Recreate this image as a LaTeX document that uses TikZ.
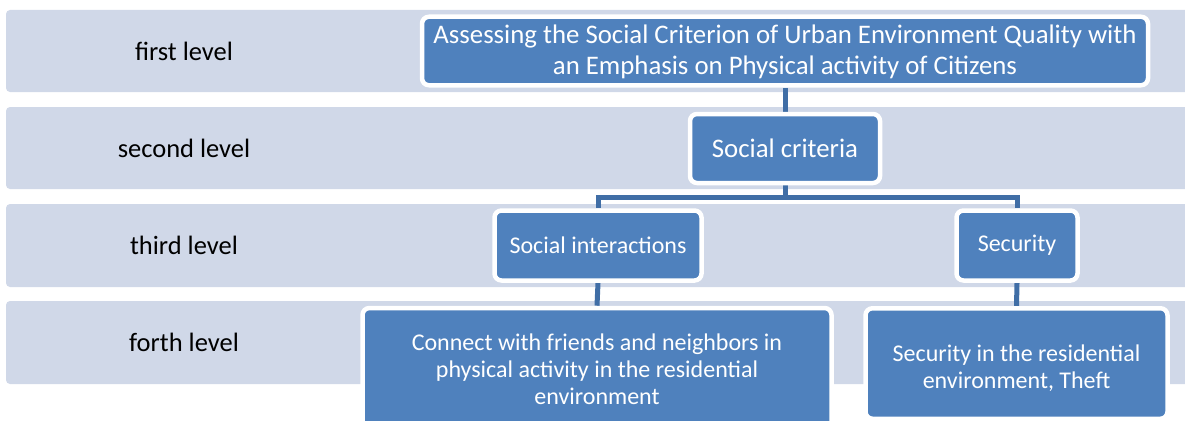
\documentclass[tikz,border=0pt]{standalone}
\usepackage{fontspec}
\setmainfont{Carlito}
\definecolor{bandgray}{HTML}{D0D8E8}
\definecolor{nodeblue}{HTML}{4F81BD}
\definecolor{linkblue}{HTML}{406EA6}
\pgfdeclarelayer{bands}
\pgfdeclarelayer{links}
\pgfsetlayers{bands,links,main}
\tikzset{
  band/.style={fill=bandgray, rounded corners=4pt},
  levellabel/.style={font=\fontsize{26.5}{30}\selectfont, text=black},
  box/.style={draw=white, line width=4.5pt, fill=nodeblue, rounded corners=7pt,
    text=white, align=center, inner sep=0pt},
  link/.style={draw=linkblue, line width=5pt},
}
\begin{document}
\begin{tikzpicture}[x=1pt,y=-1pt]
\useasboundingbox (0,0) rectangle (1185,420);
\clip (0,0) rectangle (1185,420);
% level bands
\begin{pgfonlayer}{bands}
\fill[band] (6,10) rectangle (1200,92);
\fill[band] (6,107) rectangle (1200,189);
\fill[band] (6,204) rectangle (1200,287);
\fill[band] (6,301) rectangle (1200,384);
\end{pgfonlayer}
\node[levellabel] (l1) at (184,51) {first level};
\node[levellabel] (l2) at (184,148) {second level};
\node[levellabel] (l3) at (184,245.5) {third level};
\node[levellabel] (l4) at (184,342.5) {forth level};
% nodes
\node[box, minimum width=726pt, minimum height=68.5pt, font=\fontsize{26.8}{30.5}\selectfont] (top) at (785,51)
  {\rule{0pt}{20pt}Assessing the Social Criterion of Urban Environment Quality with\\an Emphasis on Physical activity of Citizens};
\node[box, minimum width=190pt, minimum height=69pt, font=\fontsize{26.8}{30}\selectfont] (soc) at (785,148.5) {Social criteria};
\node[box, minimum width=207pt, minimum height=70pt, font=\fontsize{24}{27}\selectfont] (inter) at (598,245.5) {Social interactions};
\node[box, minimum width=121pt, minimum height=70pt, font=\fontsize{24}{27}\selectfont] (sec) at (1017,245.5) {Security};
\node[box, minimum width=469pt, minimum height=123pt, font=\fontsize{24}{27}\selectfont] (conn) at (597,369.5)
  {Connect with friends and neighbors in\\physical activity in the residential\\environment};
\node[box, minimum width=302pt, minimum height=110.5pt, font=\fontsize{24}{27}\selectfont] (secres) at (1016.5,363.5)
  {\rule{0pt}{26pt}Security in the residential\\environment, Theft};
% connectors
\coordinate (bus) at (785,197);
\begin{pgfonlayer}{links}
\draw[link] (top.south) -- (soc.north);
\draw[link] (soc.south) -- (bus);
\draw[link] (inter.north) |- (bus) -| (sec.north);
\draw[link] (inter.south) -- (conn.north);
\draw[link] (sec.south) -- (secres.north);
\end{pgfonlayer}
\end{tikzpicture}
\end{document}
